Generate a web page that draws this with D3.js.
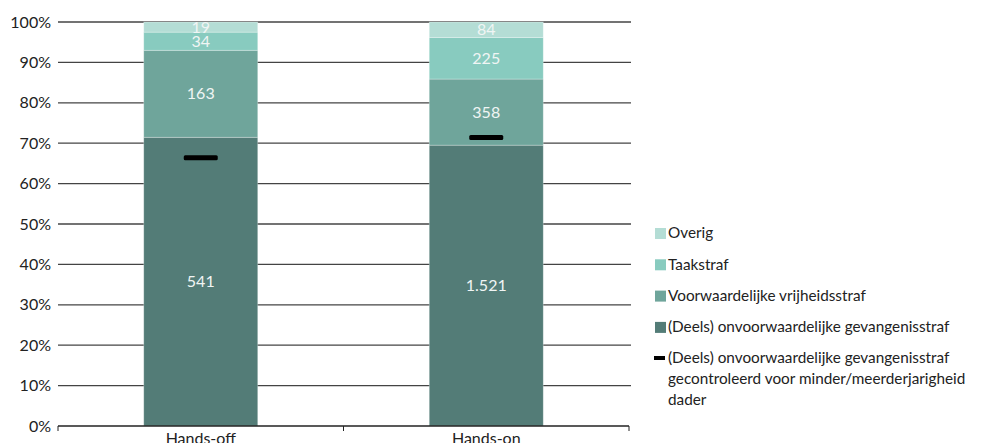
<!DOCTYPE html>
<html><head><meta charset="utf-8">
<script src="https://cdn.jsdelivr.net/npm/d3@7"></script>
<style>body{margin:0;background:#fff;}svg{display:block;font-family:Lato,"Noto Sans",sans-serif;}</style>
</head><body><svg id="c" width="981" height="443"></svg>
<script>
const categories = ["Hands-off", "Hands-on"];
const seriesNames = ["(Deels) onvoorwaardelijke gevangenisstraf", "Voorwaardelijke vrijheidsstraf", "Taakstraf", "Overig"];
const onvoorwaardelijk = [541, 1521];
const voorwaardelijk = [163, 358];
const taakstraf = [34, 225];
const overig = [19, 84];
const gecontroleerd = [0.664, 0.714];
const colors = ["#537c77", "#6fa59b", "#88cbbf", "#b4ddd5"];
const yTicks = [0,0.1,0.2,0.3,0.4,0.5,0.6,0.7,0.8,0.9,1];
const legendLabels = ["Overig", "Taakstraf", "Voorwaardelijke vrijheidsstraf", "(Deels) onvoorwaardelijke gevangenisstraf"];
const markerLegend = ["(Deels) onvoorwaardelijke gevangenisstraf", "gecontroleerd voor minder/meerderjarigheid", "dader"];

const svg = d3.select("#c");
const x = d3.scaleBand().domain(categories).range([58, 629]).paddingInner(0).paddingOuter(0);
const y = d3.scaleLinear().domain([0,1]).range([426, 22]);
const barW = 114;
const FS = 16;
const LFS = 15.3;

// grid
svg.append("g").selectAll("line").data(yTicks.slice(1)).join("line")
  .attr("x1", 58).attr("x2", 631).attr("y1", d=>y(d)).attr("y2", d=>y(d))
  .attr("stroke", "#444").attr("stroke-width", 1.3);

// y labels
svg.append("g").selectAll("text").data(yTicks).join("text")
  .attr("x", 51).attr("y", d=>y(d)).attr("dy", "0.35em").attr("text-anchor","end")
  .attr("font-size", FS).attr("fill", "#222").text(d=>d3.format(".0%")(d));

const data = categories.map((c,i)=>({cat:c, v:[onvoorwaardelijk[i], voorwaardelijk[i], taakstraf[i], overig[i]]}));
const fmt = d3.formatLocale({decimal:",", thousands:".", grouping:[3], currency:["",""]}).format(",");

data.forEach((d,i)=>{
  const total = d3.sum(d.v);
  let cum = 0;
  const cx = x(d.cat) + x.bandwidth()/2;
  d.v.forEach((v,j)=>{
    const y0 = cum/total, y1 = (cum+v)/total;
    cum += v;
    svg.append("rect").attr("x", cx-barW/2).attr("width", barW)
      .attr("y", y(y1)).attr("height", y(y0)-y(y1))
      .attr("fill", colors[j]).attr("stroke", "rgba(255,255,255,0.35)").attr("stroke-width", 0.8);
  });
  cum = 0;
  d.v.forEach((v,j)=>{
    const y0 = cum/total, y1 = (cum+v)/total;
    cum += v;
    svg.append("text").attr("x", cx).attr("y", (y(y0)+y(y1))/2).attr("dy","0.35em")
      .attr("text-anchor","middle").attr("font-size", FS).attr("fill", "#f0f5f4")
      .text(fmt(v));
  });
  svg.append("rect").attr("x", cx-17).attr("width", 34).attr("y", y(gecontroleerd[i])-2.5).attr("height", 5)
    .attr("rx", 1.5).attr("fill", "#000");
});

// x axis
const xa = svg.append("g");
xa.append("line").attr("x1",58).attr("x2",629).attr("y1",426).attr("y2",426).attr("stroke","#222").attr("stroke-width",1.3);
[58, 343.5, 629].forEach(t=>xa.append("line").attr("x1",t).attr("x2",t).attr("y1",426).attr("y2",431).attr("stroke","#222"));
xa.selectAll("text.cat").data(categories).join("text").attr("class","cat")
  .attr("x", d=>x(d)+x.bandwidth()/2).attr("y", 444).attr("text-anchor","middle")
  .attr("font-size", FS).attr("fill","#222").text(d=>d);

// legend
const lg = svg.append("g");
legendLabels.forEach((l,i)=>{
  const yy = 233 + i*31.3;
  lg.append("rect").attr("x",655).attr("y",yy-5).attr("width",11).attr("height",11).attr("fill", colors[3-i]);
  lg.append("text").attr("x",668).attr("y",yy).attr("dy","0.35em").attr("font-size",LFS).attr("fill","#222").text(l);
});
const my = 358;
lg.append("rect").attr("x",654).attr("y",my-2).attr("width",11).attr("height",4).attr("fill","#000");
markerLegend.forEach((l,i)=>{
  lg.append("text").attr("x",668).attr("y",my+i*21).attr("dy","0.35em").attr("font-size",LFS).attr("fill","#222").text(l);
});
</script></body></html>
